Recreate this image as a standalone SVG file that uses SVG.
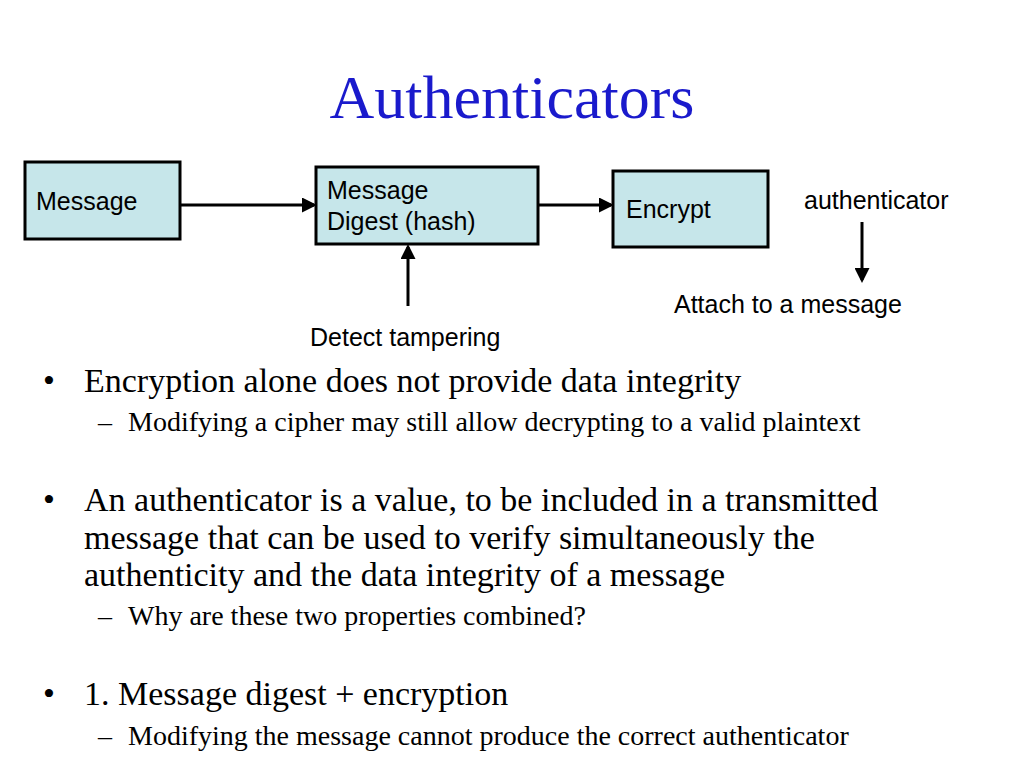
<svg xmlns="http://www.w3.org/2000/svg" width="1024" height="768" viewBox="0 0 1024 768">
<style>
.box{fill:#c6e6ea;stroke:#000;stroke-width:3}
.s{font-family:"Liberation Sans",Arial,sans-serif;font-size:25px;fill:#000}
.b{font-family:"Liberation Serif","Times New Roman",serif;font-size:34px;fill:#000}
.sb{font-family:"Liberation Serif","Times New Roman",serif;font-size:28px;fill:#000}
.c{stroke:#000;stroke-width:3;fill:none;marker-end:url(#ah)}
</style>
<defs><marker id="ah" markerWidth="5" markerHeight="5" refX="4" refY="2.5" orient="auto" markerUnits="strokeWidth"><path d="M0,0 L5,2.5 L0,5 z" fill="#000"/></marker></defs>
<rect width="1024" height="768" fill="#fff"/>
<text x="512" y="118" text-anchor="middle" font-family="Liberation Serif,serif" font-size="62" fill="#1a1acc">Authenticators</text>
<g id="message"><rect class="box" x="25" y="162" width="155" height="77"/><text class="s" x="36" y="210">Message</text></g>
<g id="digest"><rect class="box" x="316" y="167" width="222" height="77"/><text class="s" x="327" y="199">Message</text><text class="s" x="327" y="230">Digest (hash)</text></g>
<g id="encrypt"><rect class="box" x="613" y="171" width="155" height="76"/><text class="s" x="626" y="218">Encrypt</text></g>
<g id="connectors">
<line class="c" x1="180" y1="205" x2="314" y2="205"/>
<line class="c" x1="538" y1="205" x2="611" y2="205"/>
<line class="c" x1="408" y1="306" x2="408" y2="247"/>
<line class="c" x1="862" y1="222" x2="862" y2="280"/>
</g>
<text class="s" x="804" y="209">authenticator</text>
<text class="s" x="674" y="313">Attach to a message</text>
<text class="s" x="310" y="346">Detect tampering</text>
<text class="b" x="43" y="392">•</text><text class="b" x="84" y="392">Encryption alone does not provide data integrity</text>
<text class="sb" x="98" y="431">–</text><text class="sb" x="128" y="431">Modifying a cipher may still allow decrypting to a valid plaintext</text>
<text class="b" x="43" y="511">•</text><text class="b" x="84" y="511">An authenticator is a value, to be included in a transmitted</text>
<text class="b" x="84" y="549">message that can be used to verify simultaneously the</text>
<text class="b" x="84" y="586">authenticity and the data integrity of a message</text>
<text class="sb" x="98" y="625">–</text><text class="sb" x="128" y="625">Why are these two properties combined?</text>
<text class="b" x="43" y="705">•</text><text class="b" x="84" y="705">1. Message digest + encryption</text>
<text class="sb" x="98" y="745">–</text><text class="sb" x="128" y="745">Modifying the message cannot produce the correct authenticator</text>
</svg>
